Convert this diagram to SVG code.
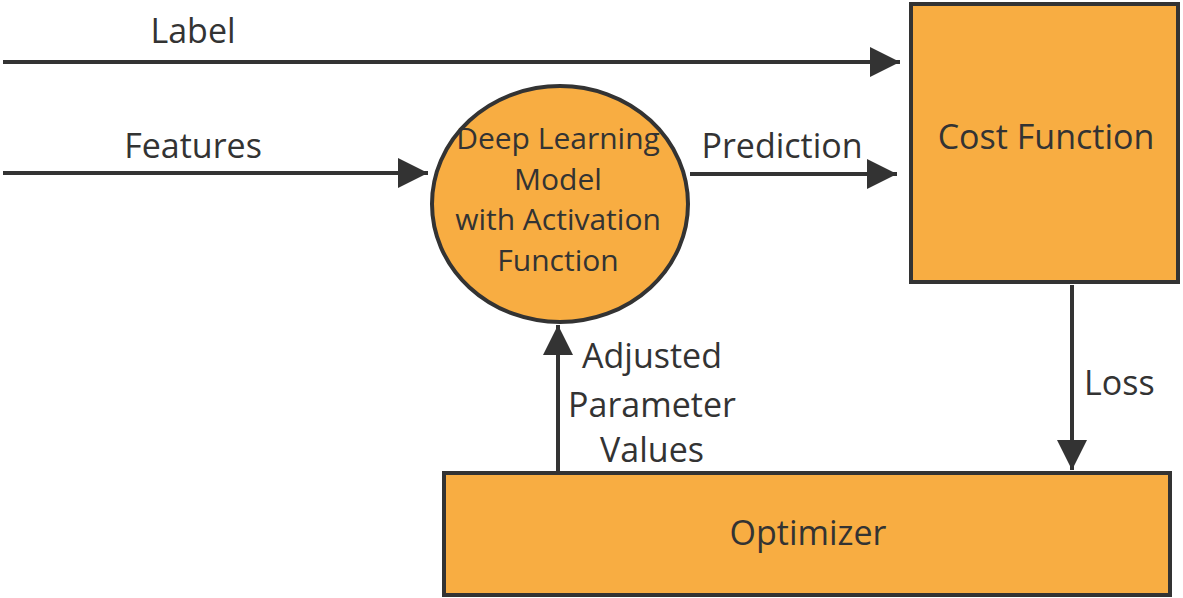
<svg xmlns="http://www.w3.org/2000/svg" width="1183" height="598" viewBox="0 0 1183 598">
<style>
.node{fill:#F8AD42;stroke:#333;stroke-width:4}
.edge{stroke:#333;stroke-width:4;fill:none}
text{font-family:"Open Sans","Noto Sans",sans-serif;fill:#333;font-size:34px}
.c{text-anchor:middle}
.m{font-size:30px}
</style>
<defs>
<marker id="ah" markerUnits="userSpaceOnUse" markerWidth="32" markerHeight="32" viewBox="0 0 32 32" refX="30" refY="16" orient="auto">
<path d="M0,1 L30,16 L0,31 Z" fill="#333"/>
</marker>
</defs>
<rect width="1183" height="598" fill="#fff"/>
<g id="connectors">
<line class="edge" x1="3" y1="62" x2="900" y2="62" marker-end="url(#ah)"/>
<line class="edge" x1="3" y1="173" x2="428" y2="173" marker-end="url(#ah)"/>
<line class="edge" x1="690" y1="174" x2="897" y2="174" marker-end="url(#ah)"/>
<line class="edge" x1="1072" y1="285" x2="1072" y2="470" marker-end="url(#ah)"/>
<line class="edge" x1="558" y1="472" x2="558" y2="325" marker-end="url(#ah)"/>
<text class="c" x="193" y="43">Label</text>
<text class="c" x="193" y="158">Features</text>
<text class="c" x="782" y="158">Prediction</text>
<text x="1084" y="395">Loss</text>
<text class="c" x="652" y="368">Adjusted</text>
<text class="c" x="652" y="417">Parameter</text>
<text class="c" x="652" y="462">Values</text>
</g>
<g id="model">
<ellipse class="node" cx="560" cy="204" rx="128" ry="118"/>
<text class="c m" x="558" y="149">Deep Learning</text>
<text class="c m" x="558" y="190">Model</text>
<text class="c m" x="558" y="230">with Activation</text>
<text class="c m" x="558" y="271">Function</text>
</g>
<g id="cost">
<rect class="node" x="911" y="4" width="267" height="278"/>
<text class="c" x="1046" y="149" font-size="35">Cost Function</text>
</g>
<g id="optimizer">
<rect class="node" x="444" y="473" width="726" height="122"/>
<text class="c" x="808" y="545">Optimizer</text>
</g>
</svg>
